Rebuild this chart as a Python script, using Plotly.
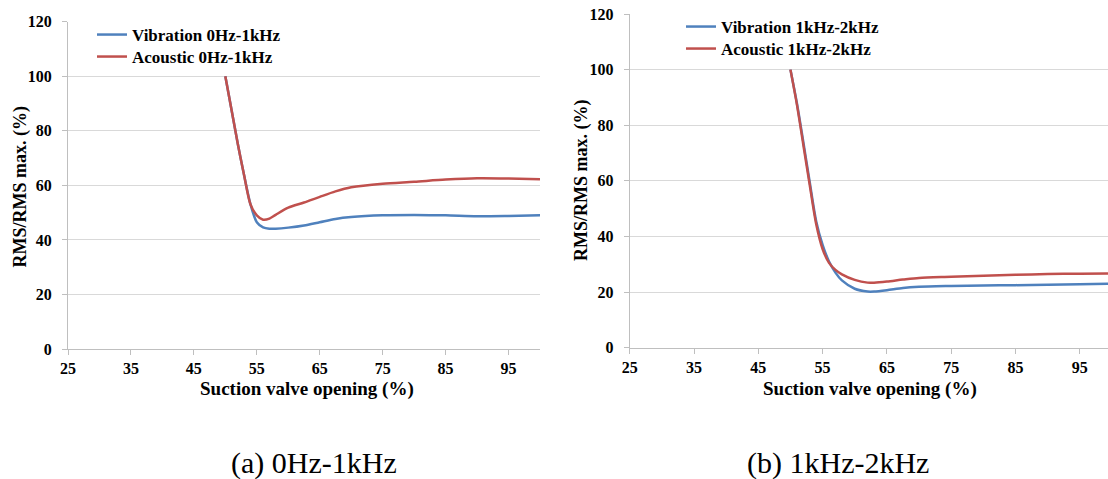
import plotly.graph_objects as go

# ---- data ----
x_a = [50, 52, 53, 54, 55, 56, 57, 58, 60, 62.5, 65, 67.5, 70, 75, 80, 85, 90, 95, 100]
vib_a = [100, 75, 63.5, 53, 46.5, 44.6, 44.1, 44.1, 44.5, 45.3, 46.5, 47.7, 48.4, 49.0, 49.1, 49.0, 48.7, 48.8, 49.0]
aco_a = [100, 75, 63.5, 53, 49.0, 47.4, 47.8, 49.2, 51.8, 53.7, 55.8, 57.8, 59.3, 60.6, 61.3, 62.1, 62.6, 62.5, 62.2]

x_b = [50, 51, 52, 53, 54, 55, 56, 57, 58, 60, 62, 63, 65, 67.5, 70, 75, 80, 85, 90, 95, 100]
vib_b = [100, 88, 74, 59.5, 45.5, 37.0, 31.0, 27.0, 24.2, 21.2, 20.2, 20.2, 20.7, 21.5, 21.9, 22.2, 22.4, 22.5, 22.6, 22.8, 23.0]
aco_b = [100, 87.5, 73, 58.5, 44.5, 35.5, 30.5, 28.0, 26.4, 24.4, 23.4, 23.4, 23.8, 24.5, 25.1, 25.5, 25.9, 26.2, 26.5, 26.6, 26.7]

x_ticks = [25, 35, 45, 55, 65, 75, 85, 95]
y_ticks = [0, 20, 40, 60, 80, 100, 120]

names_a = ["Vibration 0Hz-1kHz", "Acoustic 0Hz-1kHz"]
names_b = ["Vibration 1kHz-2kHz", "Acoustic 1kHz-2kHz"]
captions = ["(a) 0Hz-1kHz", "(b) 1kHz-2kHz"]
x_title = "Suction valve opening (%)"
y_title = "RMS/RMS max. (%)"

BLUE = "#4F81BD"
RED = "#C0504D"
W, H = 1108, 479
SERIF = "Times New Roman"

def px(v):
    return v / W

def py(v):
    return 1 - v / H

fig = go.Figure()
fig.add_trace(go.Scatter(x=x_a, y=vib_a, name=names_a[0], mode="lines",
                         line=dict(color=BLUE, width=2.5, shape="spline", smoothing=0.8),
                         xaxis="x", yaxis="y", legend="legend"))
fig.add_trace(go.Scatter(x=x_a, y=aco_a, name=names_a[1], mode="lines",
                         line=dict(color=RED, width=2.5, shape="spline", smoothing=0.8),
                         xaxis="x", yaxis="y", legend="legend2"))
fig.add_trace(go.Scatter(x=x_b, y=vib_b, name=names_b[0], mode="lines",
                         line=dict(color=BLUE, width=2.5, shape="spline", smoothing=0.8),
                         xaxis="x2", yaxis="y2", legend="legend3"))
fig.add_trace(go.Scatter(x=x_b, y=aco_b, name=names_b[1], mode="lines",
                         line=dict(color=RED, width=2.5, shape="spline", smoothing=0.8),
                         xaxis="x2", yaxis="y2", legend="legend4"))

tickfont = dict(family=SERIF, size=16, color="#000000", weight="bold")
axis_common = dict(showgrid=False, zeroline=False, showline=True, linecolor="#BFBFBF",
                   linewidth=1, ticks="outside", ticklen=5, tickcolor="#BFBFBF",
                   tickfont=tickfont, automargin=False)
xa = dict(axis_common, tickvals=x_ticks, ticklabelstandoff=0)
ya = dict(axis_common, showgrid=True, gridcolor="#D9D9D9", gridwidth=1,
          tickvals=y_ticks, range=[0, 120], ticklabelstandoff=7)

legfont = dict(family=SERIF, size=17, color="#000000", weight="bold")

def leg(xpix, ypix):
    return dict(x=px(xpix), y=py(ypix), xanchor="left", yanchor="middle",
                bgcolor="rgba(0,0,0,0)", borderwidth=0, font=legfont,
                itemwidth=30)

fig.update_layout(
    width=W, height=H,
    margin=dict(l=0, r=0, t=0, b=0, pad=0, autoexpand=False),
    paper_bgcolor="white", plot_bgcolor="white",
    font=dict(family=SERIF, color="#000000"),
    xaxis=dict(xa, domain=[px(68), px(540)], range=[25, 100], anchor="y"),
    yaxis=dict(ya, domain=[py(349), py(21.7)], anchor="x"),
    xaxis2=dict(xa, domain=[px(629.7), 1.0], range=[25, 25 + (W - 629.7) / 6.43], anchor="y2"),
    yaxis2=dict(ya, domain=[py(347.7), py(14)], anchor="x2"),
    legend=leg(92, 35),
    legend2=leg(92, 57),
    legend3=leg(681, 27),
    legend4=leg(681, 49),
    showlegend=True,
)

xtfont = dict(family=SERIF, size=19, weight="bold", color="#000000")
ytfont = dict(family=SERIF, size=18, weight="bold", color="#000000")
capfont = dict(family=SERIF, size=30, color="#000000")
annots = [
    dict(text=x_title, x=px(307), y=py(389), font=xtfont),
    dict(text=x_title, x=px(870), y=py(389), font=xtfont),
    dict(text=y_title, x=px(19.5), y=py(187), textangle=-90, font=ytfont),
    dict(text=y_title, x=px(581), y=py(181), textangle=-90, font=ytfont),
    dict(text=captions[0], x=px(314), y=py(463), font=capfont),
    dict(text=captions[1], x=px(838), y=py(463), font=capfont),
]
for a in annots:
    fig.add_annotation(xref="paper", yref="paper", showarrow=False,
                       xanchor="center", yanchor="middle", **a)

fig.write_html("out.html",
               config={"displayModeBar": False},
               post_script="document.body.style.margin='0';document.body.style.overflow='hidden';")
